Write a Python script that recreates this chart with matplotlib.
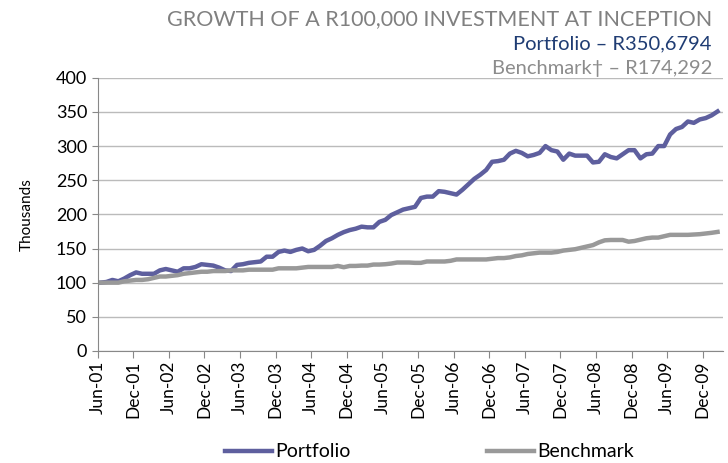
import numpy as np
import matplotlib.pyplot as plt

plt.rcParams['font.family'] = ['Lato', 'DejaVu Sans']

# monthly values (R thousands), Jun-01 .. Feb-10
portfolio = [100, 101, 104, 102, 106, 111, 115, 113, 113, 113,
             118, 120, 118, 116, 121, 121, 123, 127, 126, 125,
             122, 118, 117, 126, 127, 129, 130, 131, 138, 138,
             145, 147, 145, 148, 150, 146, 148, 154, 161, 165,
             170, 174, 177, 179, 182, 181, 181, 189, 192, 199,
             203, 207, 209, 211, 224, 226, 226, 234, 233, 231,
             229, 236, 244, 252, 258, 265, 277, 278, 280, 289,
             293, 290, 285, 287, 290, 300, 294, 292, 280, 289,
             286, 286, 286, 276, 277, 288, 284, 282, 288, 294,
             294, 282, 288, 289, 300, 300, 317, 325, 328, 336,
             334, 339, 341, 345, 350.7]
benchmark = [100, 100, 100, 100, 102, 103, 104, 104, 105, 107,
             109, 109, 110, 111, 113, 114, 115, 116, 116, 117,
             117, 117, 118, 118, 118, 119, 119, 119, 119, 119,
             121, 121, 121, 121, 122, 123, 123, 123, 123, 123,
             124.5, 122.6, 124.5, 124.5, 125, 125, 126.5, 126.5, 127, 128,
             129.5, 129.5, 129.5, 129, 129, 131, 131, 131, 131, 132,
             134, 134, 134, 134, 134, 134, 135, 136, 136, 137,
             139, 140, 142, 143, 144, 144, 144, 145, 147, 148,
             149, 151, 153, 155, 159, 162, 162.5, 162.5, 162.5, 160,
             161, 163, 165, 166, 166, 168, 170, 170, 170, 170,
             170.5, 171, 172, 173, 174.3]
tick_labels = ['Jun-01', 'Dec-01', 'Jun-02', 'Dec-02', 'Jun-03', 'Dec-03',
               'Jun-04', 'Dec-04', 'Jun-05', 'Dec-05', 'Jun-06', 'Dec-06',
               'Jun-07', 'Dec-07', 'Jun-08', 'Dec-08', 'Jun-09', 'Dec-09']

x = np.arange(len(portfolio))

fig = plt.figure(figsize=(7.28, 4.63), dpi=100)
ax = fig.add_axes([0.134, 0.242, 0.859, 0.59])

ax.plot(x, portfolio, color='#5E5F9E', lw=3.2, label='Portfolio', solid_joinstyle='round')
ax.plot(x, benchmark, color='#999999', lw=3.2, label='Benchmark', solid_joinstyle='round')

ax.set_ylim(0, 400)
ax.set_yticks(range(0, 401, 50))
ax.set_xlim(-0.5, 104.9)
ax.set_xticks(np.arange(len(tick_labels)) * 6 - 0.5)
ax.set_xticklabels(tick_labels, rotation=90, fontsize=12.5)
ax.tick_params(axis='y', labelsize=13, length=4, color='#888888')
ax.tick_params(axis='x', length=5, color='#888888', pad=2)
ax.grid(axis='y', color='#BBBBBB', lw=1)
ax.set_axisbelow(True)
for s in ['top', 'right']:
    ax.spines[s].set_visible(False)
ax.spines['left'].set_color('#888888')
ax.spines['bottom'].set_color('#888888')
ax.set_ylabel('Thousands', fontsize=11, labelpad=16)

fig.text(0.978, 0.945, 'GROWTH OF A R100,000 INVESTMENT AT INCEPTION',
         ha='right', fontsize=15.5, color='#808080')
fig.text(0.978, 0.893, 'Portfolio \u2013 R350,6794', ha='right', fontsize=14.5,
         color='#1F3C73')
fig.text(0.978, 0.841, 'Benchmark\u2020 \u2013 R174,292', ha='right', fontsize=14.5,
         color='#8C8C8C')

fig.legend(loc='center', bbox_to_anchor=(0.59, 0.024), ncol=2, frameon=False,
           fontsize=14, handlelength=2.4, columnspacing=7, handletextpad=0.2)

fig.savefig('out.png', dpi=100)
